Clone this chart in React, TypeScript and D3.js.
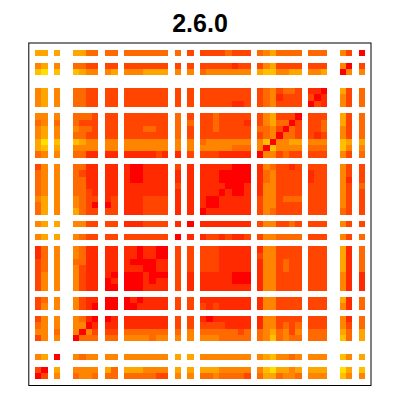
import * as d3 from 'd3'

const title = '2.6.0'

// grid is 52 x 52, the ids missing below stay white
const gridIds = d3.range(52)
const activeCols = [0, 1, 3, 6, 7, 8, 9, 11, 12, 14, 15, 16, 17, 18, 19, 20, 22, 24, 26, 27, 28, 29, 30, 31, 32, 33, 35, 36, 37, 38, 39, 40, 41, 43, 44, 45, 48, 49, 51]
const activeRows = [...activeCols].reverse()

// 0 is the hottest colour step, 7 the palest
const levels = [0, 1, 2, 3, 4, 5, 6, 7]
const heat = ['#ff0000', '#ff2a00', '#ff4500', '#ff6a00', '#ff8500', '#ffa500', '#ffbf00', '#ffdf00']

// one list per active row, top row first
const cells = [
  [5,5,5, 5,5,3,3, 3,3, 3,3,3,3,3,3,3, 3, 2, 2,2,2,2,3,2,2,2, 3,4,5,3,3,3,3, 3,3,3, 4,2, 0],
  [4,5,4, 3,3,2,2, 2,2, 2,2,2,2,2,2,2, 2, 2, 2,2,2,2,2,1,2,2, 2,4,5,2,2,2,2, 2,2,2, 4,0, 2],
  [6,7,6, 6,5,4,4, 4,5, 4,4,4,5,5,5,5, 4, 4, 3,4,4,4,4,4,4,4, 5,6,6,4,4,5,5, 4,4,5, 0,4, 4],
  [4,5,4, 3,3,2,2, 2,2, 2,2,2,2,2,2,2, 2, 2, 2,2,2,2,2,2,2,2, 2,3,4,2,3,3,2, 1,1,0, 5,2, 3],
  [4,5,4, 3,3,2,2, 2,2, 2,2,2,2,2,2,2, 2, 2, 2,2,2,2,2,2,2,2, 2,3,4,1,2,2,2, 2,0,1, 4,2, 3],
  [4,5,4, 3,3,2,2, 2,2, 2,2,2,2,2,2,2, 2, 2, 2,2,2,2,2,1,1,2, 2,3,4,2,2,2,2, 0,2,1, 4,2, 3],
  [4,4,4, 3,3,3,2, 2,2, 2,2,2,2,2,2,2, 3, 2, 2,2,3,2,2,2,2,2, 2,4,5,2,2,2,0, 2,2,2, 5,2, 3],
  [3,4,3, 3,2,2,2, 2,2, 2,2,2,2,2,2,2, 3, 3, 2,2,3,2,2,2,2,1, 2,4,5,3,3,0,2, 2,2,3, 5,2, 3],
  [4,5,4, 4,3,3,2, 2,2, 2,2,2,3,3,2,2, 3, 2, 2,2,3,2,2,2,2,2, 3,3,4,2,0,3,2, 2,2,3, 4,2, 3],
  [4,5,4, 3,3,2,2, 2,2, 2,2,2,2,2,2,2, 3, 2, 2,2,2,2,2,2,2,2, 2,3,4,0,3,3,2, 2,1,2, 4,2, 3],
  [5,7,6, 6,5,4,4, 4,4, 4,4,4,4,4,4,4, 4, 4, 3,4,4,4,4,4,4,4, 4,6,0,4,4,5,5, 4,4,4, 6,5, 5],
  [5,6,5, 4,4,4,4, 4,4, 4,4,4,4,4,4,4, 4, 4, 4,4,4,4,4,3,3,3, 4,0,6,4,4,4,4, 3,3,3, 6,4, 4],
  [3,4,4, 3,3,1,1, 1,1, 1,1,1,1,1,2,1, 1, 2, 2,2,2,1,1,1,1,1, 0,4,4,2,3,2,2, 2,2,2, 4,2, 3],
  [2,4,4, 3,3,1,1, 1,1, 1,0,0,1,1,1,1, 2, 1, 1,1,1,1,1,0,0,0, 1,4,3,2,2,1,2, 2,2,2, 4,2, 2],
  [3,4,4, 3,2,1,1, 1,1, 1,0,0,1,1,1,1, 1, 1, 1,1,1,0,0,0,0,0, 1,3,4,2,2,2,2, 1,2,2, 4,2, 2],
  [3,4,4, 3,3,1,1, 1,1, 1,0,0,1,1,1,1, 1, 1, 1,1,1,0,0,0,0,0, 1,3,4,2,2,2,2, 1,2,2, 4,1, 2],
  [3,4,4, 3,3,1,1, 1,1, 1,1,1,1,1,1,1, 2, 1, 1,1,1,1,0,0,0,1, 1,4,4,2,2,2,2, 2,2,2, 4,2, 3],
  [3,4,4, 3,3,2,1, 1,1, 1,1,1,1,1,1,1, 1, 1, 1,1,1,0,1,0,0,1, 1,4,4,2,2,2,2, 2,2,2, 4,2, 2],
  [4,5,4, 4,3,2,2, 1,2, 1,1,1,2,2,2,2, 1, 1, 1,0,0,1,1,1,1,1, 2,4,4,2,3,3,3, 2,2,2, 4,2, 2],
  [3,5,4, 4,3,2,0, 0,2, 1,1,1,2,2,2,2, 1, 1, 1,0,0,1,1,1,1,1, 2,4,4,2,2,2,2, 2,2,2, 4,2, 2],
  [3,5,4, 5,3,2,2, 2,2, 1,1,1,2,2,2,2, 1, 1, 0,1,1,1,1,1,1,1, 2,4,3,2,2,2,2, 2,2,2, 3,2, 2],
  [4,5,5, 4,4,2,2, 2,2, 1,1,1,2,2,2,2, 1, 0, 1,1,1,1,1,1,1,1, 2,4,4,2,2,3,2, 2,2,2, 4,2, 2],
  [4,5,5, 4,3,2,2, 2,2, 2,2,2,2,2,2,2, 0, 1, 1,2,2,1,2,1,1,2, 2,4,4,3,3,3,3, 2,2,2, 4,2, 3],
  [1,3,4, 4,3,1,1, 1,1, 1,1,0,1,1,0,0, 2, 2, 2,2,2,1,1,1,1,1, 1,4,4,2,2,2,2, 2,2,2, 5,1, 3],
  [1,3,4, 4,3,1,1, 1,1, 1,1,0,1,1,0,0, 2, 2, 2,2,2,1,1,1,1,1, 2,4,4,2,2,2,2, 2,2,2, 5,1, 3],
  [2,3,4, 3,3,1,1, 1,1, 1,0,0,0,0,1,1, 2, 2, 2,2,2,1,1,1,1,1, 1,4,4,2,3,2,2, 2,2,2, 5,1, 3],
  [2,3,4, 4,2,1,1, 1,1, 1,1,1,0,0,1,1, 2, 2, 2,2,2,1,1,1,1,1, 1,4,4,2,3,2,2, 2,2,2, 5,1, 3],
  [2,4,4, 4,2,1,1, 1,0, 0,0,0,1,0,0,0, 2, 1, 1,1,1,1,1,0,0,0, 1,4,4,2,2,2,2, 2,2,2, 4,1, 1],
  [2,4,4, 4,2,1,1, 0,1, 0,0,0,1,0,1,1, 2, 1, 1,1,1,1,1,0,0,0, 1,4,4,2,2,2,2, 2,2,2, 4,1, 1],
  [2,4,4, 4,2,1,1, 0,0, 0,0,0,1,1,1,1, 2, 1, 1,1,1,1,1,1,1,1, 1,4,4,2,2,2,2, 2,2,2, 4,1, 1],
  [2,3,4, 4,2,1,1, 0,0, 0,1,0,1,1,1,1, 2, 2, 1,1,1,1,1,1,1,1, 1,4,4,2,2,2,2, 2,2,2, 5,1, 3],
  [2,4,4, 4,2,1,0, 0,0, 0,0,1,1,1,1,1, 2, 2, 2,1,2,1,1,1,1,1, 1,4,4,2,2,2,2, 2,2,2, 4,1, 3],
  [2,4,4, 4,3,1,0, 0,1, 1,1,1,1,1,1,1, 2, 2, 1,0,1,1,1,1,1,1, 1,4,4,2,2,2,2, 2,2,2, 4,1, 3],
  [3,4,4, 4,4,0,1, 1,1, 1,1,1,1,1,1,1, 2, 2, 2,2,2,2,1,1,1,1, 1,4,4,2,3,2,3, 2,2,2, 4,2, 3],
  [4,4,3, 4,0,4,2, 2,2, 3,3,3,3,3,3,3, 3, 4, 3,3,3,3,3,3,2,3, 3,4,5,3,4,2,4, 3,3,3, 5,3, 5],
  [2,4,4, 0,3,3,3, 3,3, 4,4,4,4,3,4,4, 4, 4, 4,4,4,3,3,3,3,3, 3,4,6,3,4,3,3, 3,3,3, 6,3, 5],
  [4,5,0, 4,3,4,4, 4,4, 4,4,4,4,4,4,4, 5, 5, 4,4,4,4,4,4,4,4, 4,5,6,4,4,3,4, 4,4,4, 6,4, 5],
  [2,0,5, 4,4,4,4, 5,3, 5,5,5,4,4,4,4, 5, 5, 5,5,5,4,4,4,4,4, 4,6,7,5,5,4,5, 5,5,5, 7,5, 6],
  [0,2,4, 3,4,4,3, 3,3, 3,3,3,3,3,2,2, 4, 4, 3,3,4,3,3,3,3,2, 3,5,5,3,4,4,3, 4,4,4, 6,4, 4],
]

const size = 400
// box sits off the pixel grid on three sides, that gives the soft grey edges
const frame = { left: 28.8, right: 371, top: 43, bottom: 385.5 }

export default function App() {
  const x = d3.scaleBand<number>().domain(gridIds).range([35, 365])
  const y = d3.scaleBand<number>().domain([...gridIds].reverse()).range([50, 379.3])
  const color = d3.scaleOrdinal<number, string>().domain(levels).range(heat)

  return (
    <svg width={size} height={size} style={{ position: 'absolute', left: 0, top: 0 }}>
      <rect width={size} height={size} fill="#fff" />
      <text
        x={200}
        y={31.5}
        textAnchor="middle"
        fontFamily="'Liberation Sans', Arial, sans-serif"
        fontWeight="bold"
        fontSize={25}
        fill="#000"
      >
        {title}
      </text>
      <g shapeRendering="crispEdges">
        {cells.map((row, i) =>
          row.map((level, j) => (
            <rect
              key={`${i}-${j}`}
              x={x(activeCols[j])}
              y={y(activeRows[i])}
              width={x.bandwidth()}
              height={y.bandwidth()}
              fill={color(level)}
            />
          ))
        )}
      </g>
      <rect
        x={frame.left}
        y={frame.top}
        width={frame.right - frame.left}
        height={frame.bottom - frame.top}
        fill="none"
        stroke="#000"
        strokeWidth={1}
      />
    </svg>
  )
}
